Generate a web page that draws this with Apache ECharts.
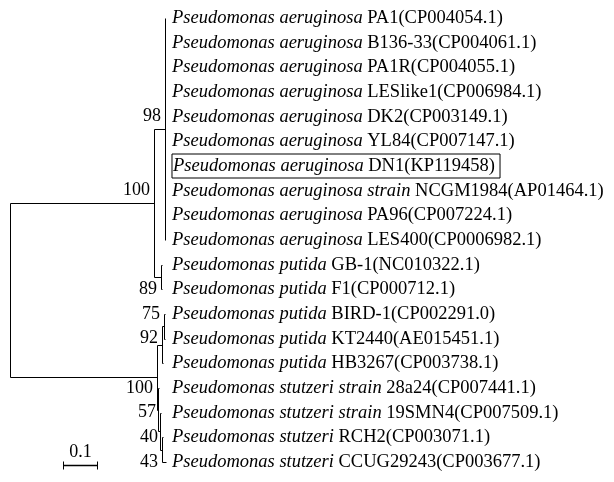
<!DOCTYPE html>
<html><head><meta charset="utf-8">
<script src="https://cdn.jsdelivr.net/npm/echarts@6/dist/echarts.min.js"></script>
<style>html,body{margin:0;padding:0;background:#fff}#c{width:614px;height:482px}</style>
</head><body><div id="c"></div>
<script>
// ---- tips (top to bottom) ----
const tipItalic = [
  'Pseudomonas aeruginosa','Pseudomonas aeruginosa','Pseudomonas aeruginosa','Pseudomonas aeruginosa',
  'Pseudomonas aeruginosa','Pseudomonas aeruginosa','Pseudomonas aeruginosa','Pseudomonas aeruginosa strain',
  'Pseudomonas aeruginosa','Pseudomonas aeruginosa','Pseudomonas putida','Pseudomonas putida',
  'Pseudomonas putida','Pseudomonas putida','Pseudomonas putida','Pseudomonas stutzeri strain',
  'Pseudomonas stutzeri strain','Pseudomonas stutzeri','Pseudomonas stutzeri'
];
const tipPlain = [
  'PA1(CP004054.1)','B136-33(CP004061.1)','PA1R(CP004055.1)','LESlike1(CP006984.1)',
  'DK2(CP003149.1)','YL84(CP007147.1)','DN1(KP119458)','NCGM1984(AP01464.1)',
  'PA96(CP007224.1)','LES400(CP0006982.1)','GB-1(NC010322.1)','F1(CP000712.1)',
  'BIRD-1(CP002291.0)','KT2440(AE015451.1)','HB3267(CP003738.1)','28a24(CP007441.1)',
  '19SMN4(CP007509.1)','RCH2(CP003071.1)','CCUG29243(CP003677.1)'
];
const tipParent = ['A98','A98','A98','A98','A98','A98','A98','A98','A98','A98',
  'P89','P89','N75','N75','N92','S57','S2','S40','S40'];
const tipBranch = [0,0,0,0,0,0,0,0,0,0, 0.003,0.003, 0.003,0.003, 0.003, 0.003,0.003, 0.003,0.0117];
const boxedTip = 6;

// ---- internal nodes (parents listed before children) ----
const nodeIds    = ['root','U','A98','P89','L','N92','N75','S57','S2','S40'];
const nodeParent = [null,'root','U','U','root','L','N92','L','S57','S2'];
const nodeBranch = [0, 0.4235, 0.0324, 0.0206, 0.4324, 0.0147, 0.0058, 0.0029, 0.0059, 0.0059];

// ---- bootstrap support ----
const supportValues = ['100','98','89','75','92','100','57','40','43'];
const supportNodes  = ['U','A98','P89','N75','N92','L','S2','S40','S40'];
const supportRows   = [7, 4, 11, 12, 13, 15, 16, 17, 18];

// ---- scale bar ----
const scaleBarLength = 0.1;
const scaleBarLabel = '0.1';

// ---- layout / style constants ----
const FONT = 'Liberation Serif, Times New Roman, serif';
const TIP_SIZE = 18.5, NUM_SIZE = 18, LABEL_GAP = 4;
const scaleBarStart = [0.156, 18.12];   // data units (x), row units (y)

// ---- build tree geometry ----
const depth = {}, yPos = {}, children = {};
nodeIds.forEach((id, i) => {
  depth[id] = nodeParent[i] ? depth[nodeParent[i]] + nodeBranch[i] : 0;
  children[id] = [];
});
nodeIds.forEach((id, i) => { if (nodeParent[i]) children[nodeParent[i]].push({type:'node', id}); });
tipParent.forEach((p, i) => children[p].push({type:'tip', i}));
const tipDepth = tipParent.map((p, i) => depth[p] + tipBranch[i]);
function yOf(c){ return c.type === 'tip' ? c.i : nodeY(c.id); }
function nodeY(id){
  if (yPos[id] !== undefined) return yPos[id];
  const ys = children[id].map(yOf);
  yPos[id] = (Math.min(...ys) + Math.max(...ys)) / 2;
  return yPos[id];
}
nodeY('root');
const segs = [];
nodeIds.forEach(id => {
  const ys = children[id].map(yOf);
  segs.push([depth[id], Math.min(...ys), depth[id], Math.max(...ys)]);
  children[id].forEach(c => {
    const cy = yOf(c);
    const cd = c.type === 'tip' ? tipDepth[c.i] : depth[c.id];
    if (cd > depth[id]) segs.push([depth[id], cy, cd, cy]);
  });
});
const maxTip = Math.max(...tipDepth);

const chart = echarts.init(document.getElementById('c'), null, {renderer:'canvas'});
const crisp = v => Math.round(v) + 0.5;
chart.setOption({
  animation: false,
  grid: {left: 10, top: 18, width: 340, height: 444},
  xAxis: {type:'value', min:0, max:1, show:false},
  yAxis: {type:'value', min:0, max:18, inverse:true, show:false},
  series: [
    { type:'custom', clip:false, encode:{x:[0,2], y:[1,3]}, data: segs,
      renderItem: (params, api) => {
        const a = api.coord([api.value(0), api.value(1)]);
        const b = api.coord([api.value(2), api.value(3)]);
        return {type:'line', shape:{x1:crisp(a[0]), y1:crisp(a[1]), x2:crisp(b[0]), y2:crisp(b[1])},
          style:{stroke:'#000', lineWidth:1}};
      }},
    { type:'custom', clip:false, encode:{x:0, y:1},
      data: tipPlain.map((t, i) => [maxTip, i]),
      renderItem: (params, api) => {
        const i = params.dataIndex;
        const p = api.coord([api.value(0), api.value(1)]);
        const boxed = i === boxedTip;
        return {type:'text', x: p[0] + 6, y: p[1],
          style:{text: '{i|' + tipItalic[i] + '} {n|' + tipPlain[i] + '}',
            rich:{i:{fontStyle:'italic', fontFamily:FONT, fontSize:TIP_SIZE, fill:'#000'},
                  n:{fontFamily:FONT, fontSize:TIP_SIZE, fill:'#000'}},
            font: TIP_SIZE + 'px ' + FONT, fill:'#000', align:'left', verticalAlign:'middle',
            borderColor: boxed ? '#000' : null, borderWidth: boxed ? 1 : 0,
            padding: boxed ? [3, 5, 2, 1] : 0}};
      }},
    { type:'custom', clip:false, encode:{x:0, y:1},
      data: supportNodes.map((n, k) => [depth[n], supportRows[k]]),
      renderItem: (params, api) => {
        const k = params.dataIndex;
        const p = api.coord([api.value(0), api.value(1)]);
        return {type:'text', x: p[0] - LABEL_GAP, y: p[1],
          style:{text: supportValues[k], font: NUM_SIZE + 'px ' + FONT, fill:'#000', align:'right', verticalAlign:'middle'}};
      }},
    { type:'custom', clip:false, encode:{x:0, y:1},
      data: [[scaleBarStart[0], scaleBarStart[1], scaleBarStart[0] + scaleBarLength]],
      renderItem: (params, api) => {
        const a = api.coord([api.value(0), api.value(1)]);
        const b = api.coord([api.value(2), api.value(1)]);
        const y = crisp(a[1]), x1 = crisp(a[0]), x2 = crisp(b[0]);
        return {type:'group', children:[
          {type:'line', shape:{x1, y1:y, x2, y2:y}, style:{stroke:'#000', lineWidth:1.5}},
          {type:'line', shape:{x1, y1:y-4, x2:x1, y2:y+4}, style:{stroke:'#000', lineWidth:1}},
          {type:'line', shape:{x1:x2, y1:y-4, x2, y2:y+4}, style:{stroke:'#000', lineWidth:1}},
          {type:'text', x:(x1 + x2) / 2, y: y - 4,
            style:{text: scaleBarLabel, font: NUM_SIZE + 'px ' + FONT, fill:'#000', align:'center', verticalAlign:'bottom'}}
        ]};
      }}
  ]
});
</script></body></html>
